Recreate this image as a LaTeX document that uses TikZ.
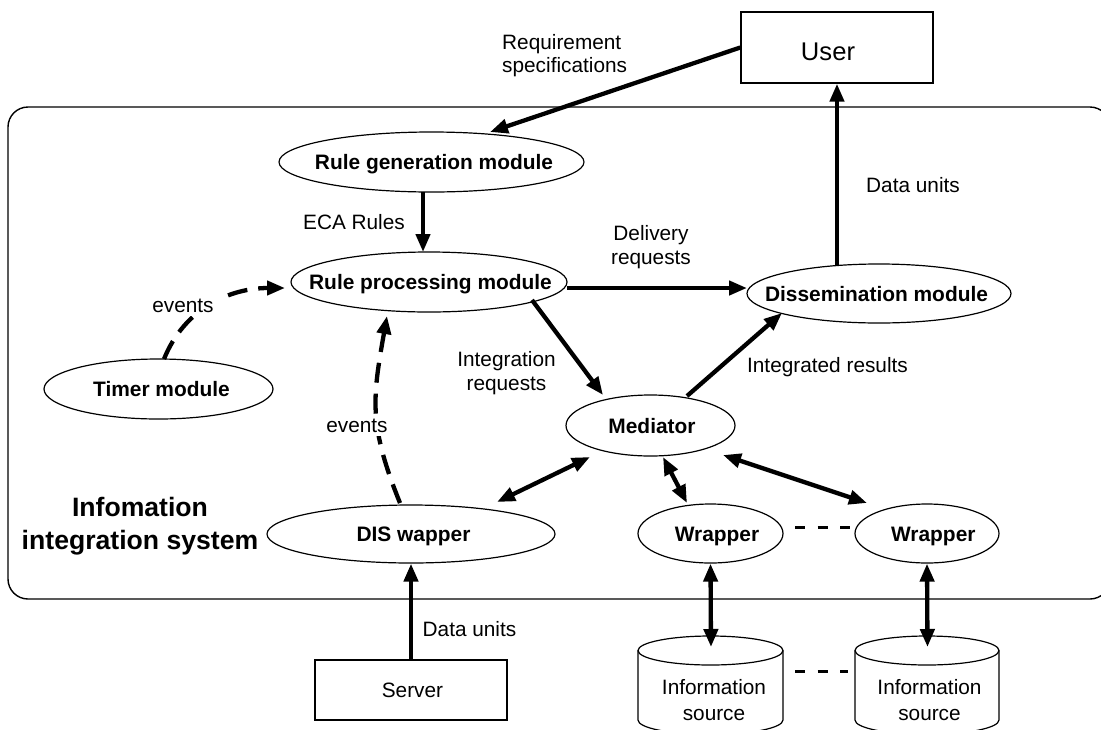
\documentclass[tikz,border=0pt]{standalone}
\usepackage{fontspec}
\setmainfont{Liberation Sans}
\usetikzlibrary{arrows.meta,shapes.geometric,calc}
\newcommand\etxt[2][0pt]{\makebox[0pt]{\hspace*{#1}#2}}
\begin{document}
\begin{tikzpicture}[x=1pt,y=-1pt,
  mod/.style={ellipse,draw,line width=1.2pt,fill=white,inner sep=0pt,
    font=\fontsize{20.9}{25}\selectfont\bfseries,text height=15pt,text depth=0pt},
  box/.style={rectangle,draw,line width=1.4pt,fill=white,inner sep=0pt},
  lbl/.style={font=\fontsize{20.8}{24}\selectfont,inner sep=1pt,text height=15pt,text depth=0pt},
  mlbl/.style={font=\fontsize{20.8}{24}\selectfont,align=center,inner sep=0pt},
  conn/.style={line width=4.3pt,-{Triangle[length=18pt,width=14pt]}},
  dconn/.style={line width=4.3pt,{Triangle[length=18pt,width=14pt]}-{Triangle[length=18pt,width=14pt]}},
  evt/.style={conn,dash pattern=on 20pt off 11pt},
  dots/.style={line width=3pt,dash pattern=on 10pt off 12.5pt},
  cyl/.style={line width=1.2pt,fill=white},
]
\useasboundingbox (0,0) rectangle (1101,729);
\fill[white] (0,0) rectangle (1101,729);
% system boundary
\draw[line width=1.4pt,rounded corners=20pt] (8,107) rectangle (1110,599);
\node[font=\fontsize{26.6}{33}\selectfont\bfseries,align=center,inner sep=0pt] (sys) at (140,526) {Infomation\\integration system};

% outside boxes
\node[box,minimum width=192pt,minimum height=71pt,font=\fontsize{25.6}{30}\selectfont,text height=18pt,text depth=0pt]
  (user) at (837,47.5) {\makebox[0pt]{\hspace*{-18pt}\raisebox{-4pt}{User}}};
\node[box,minimum width=192pt,minimum height=60pt,font=\fontsize{20.8}{25}\selectfont,text height=15pt,text depth=0pt]
  (server) at (411,690) {\etxt[3pt]{Server}};

% modules
\node[mod,minimum width=305pt,minimum height=60pt] (rulegen) at (431.5,162) {\etxt[5pt]{Rule generation module}};
\node[mod,minimum width=276pt,minimum height=60pt] (rulep) at (429,282) {\etxt[3pt]{Rule processing module}};
\node[mod,minimum width=264pt,minimum height=59pt] (diss) at (879,293.5) {\etxt[-5pt]{Dissemination module}};
\node[mod,minimum width=229pt,minimum height=60pt] (timer) at (158.5,389) {\etxt[6pt]{Timer module}};
\node[mod,minimum width=169pt,minimum height=61pt] (mediator) at (650.5,425.5) {\etxt[3pt]{Mediator}};
\node[mod,minimum width=288pt,minimum height=58pt] (dis) at (411,534) {\etxt[5pt]{DIS wapper}};
\node[mod,minimum width=145pt,minimum height=59pt] (w1) at (710.5,533.5) {\etxt[13pt]{Wrapper}};
\node[mod,minimum width=144pt,minimum height=59pt] (w2) at (927,533.5) {\etxt[12.6pt]{Wrapper}};

% information sources (cylinders)
\draw[cyl] (638,650.5) -- (638,720) arc[start angle=180,end angle=360,x radius=72.5pt,y radius=14.5pt] -- (783,650.5);
\draw[cyl] (710.5,650.5) ellipse[x radius=72.5pt,y radius=14.5pt];
\draw[cyl] (855,650.5) -- (855,720) arc[start angle=180,end angle=360,x radius=72pt,y radius=14.5pt] -- (999,650.5);
\draw[cyl] (927,650.5) ellipse[x radius=72pt,y radius=14.5pt];
\node[mlbl,font=\fontsize{20.8}{26}\selectfont] (src1) at (714,700) {Information\\source};
\node[mlbl,font=\fontsize{20.8}{26}\selectfont] (src2) at (929.5,700) {Information\\source};
\coordinate (s1top) at (711,647);
\coordinate (s2top) at (927.5,647);

% connectors
\draw[conn] (user.west) -- ($(rulegen)+(58.5,-30)$);
\draw[conn] ($(rulegen)+(-8.5,30)$) -- ($(rulep)+(-6,-30)$);
\draw[conn] ($(rulep)+(138,6)$) -- ($(diss)+(-132,-5.5)$);
\draw[conn] ($(diss)+(-42,-28)$) -- (user.south);
\draw[conn] ($(rulep)+(103,18)$) -- ($(mediator)+(-47.5,-30.5)$);
\draw[conn] ($(mediator)+(36.5,-29.5)$) -- ($(diss)+(-97,19.5)$);
\draw[dconn] ($(dis)+(86,-32)$) -- ($(mediator)+(-60.5,31.5)$);
\draw[dconn] ($(mediator)+(12.5,31.5)$) -- ($(w1)+(-23.5,-30.5)$);
\draw[dconn] ($(mediator)+(72.5,29.5)$) -- ($(w2)+(-60,-30.5)$);
\draw[dconn] (w1.south) -- (s1top);
\draw[dconn] (w2.south) -- (s2top);
\draw[conn] (server.north) -- (dis.south);
\draw[evt] ($(timer)+(5.5,-30)$) to[out=68,in=180] ($(rulep)+(-144,6)$);
\draw[evt] ($(dis)+(-11,-31)$) to[out=112,in=-100,looseness=1.15] ($(rulep)+(-42,34)$);
\draw[dots] ($(w1)+(84.5,-6.5)$) -- ($(w2)+(-77,-6.5)$);
\draw[dots] ($(src1)+(81,-29)$) -- ($(src2)+(-81.5,-29)$);

% labels
\node[mlbl,anchor=west,font=\fontsize{20.8}{23}\selectfont,align=left] (lreq) at (502,55.7) {Requirement\\specifications};
\node[lbl] (leca) at (354,222) {ECA Rules};
\node[lbl] (ldu1) at (913,185) {Data units};
\node[mlbl,font=\fontsize{20.8}{24.5}\selectfont] (ldel) at (651,247) {Delivery\\requests};
\node[mlbl] (lint) at (506.5,373) {Integration\\requests};
\node[lbl] (lres) at (827.5,365) {Integrated results};
\node[lbl,fill=white,inner xsep=7pt,inner ysep=3pt] (lev1) at (183,305) {events};
\node[lbl,fill=white,inner sep=3pt] (lev2) at (357,425) {events};
\node[lbl] (ldu2) at (469.5,628.5) {Data units};
\end{tikzpicture}
\end{document}
